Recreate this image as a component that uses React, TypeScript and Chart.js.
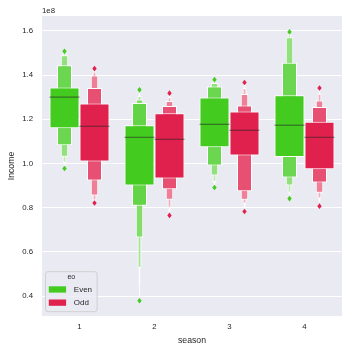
import React, { useEffect, useRef } from "react";
import { Chart, registerables } from "chart.js";

Chart.register(...registerables);

const SEASONS = ["1", "2", "3", "4"];
const HUES = ["Even", "Odd"];
const HUE_COLORS = ["#43CB1F", "#E0204D"];

const EVEN_MEDIAN = [1.3e8, 1.118e8, 1.177e8, 1.173e8];
const ODD_MEDIAN = [1.168e8, 1.109e8, 1.15e8, 1.118e8];

// letter-value box ends per season, innermost (quartiles) to outermost
const EVEN_LOWER = [
  [1.159e8, 1.082e8, 1.03e8, 1.003e8, 0.99e8],
  [0.9e8, 0.809e8, 0.665e8, 0.527e8, 0.45e8, 0.397e8],
  [1.073e8, 0.991e8, 0.945e8, 0.916e8, 0.9e8],
  [1.029e8, 0.936e8, 0.9e8, 0.868e8, 0.856e8],
];
const EVEN_UPPER = [
  [1.344e8, 1.444e8, 1.489e8, 1.499e8, 1.504e8],
  [1.173e8, 1.273e8, 1.289e8, 1.305e8, 1.318e8, 1.326e8],
  [1.298e8, 1.348e8, 1.364e8, 1.372e8, 1.376e8],
  [1.309e8, 1.455e8, 1.571e8, 1.583e8, 1.59e8],
];
const ODD_LOWER = [
  [1.009e8, 0.923e8, 0.855e8, 0.833e8, 0.826e8],
  [0.932e8, 0.883e8, 0.836e8, 0.8e8, 0.78e8],
  [1.036e8, 0.874e8, 0.836e8, 0.818e8, 0.798e8],
  [0.974e8, 0.914e8, 0.868e8, 0.841e8, 0.825e8],
];
const ODD_UPPER = [
  [1.271e8, 1.341e8, 1.398e8, 1.416e8, 1.424e8],
  [1.227e8, 1.26e8, 1.282e8, 1.3e8, 1.31e8],
  [1.235e8, 1.262e8, 1.314e8, 1.341e8, 1.356e8],
  [1.189e8, 1.255e8, 1.285e8, 1.315e8, 1.326e8],
];
const EVEN_OUTLIERS = [
  [1.507e8, 0.977e8],
  [1.333e8, 0.379e8],
  [1.379e8, 0.891e8],
  [1.595e8, 0.841e8],
];
const ODD_OUTLIERS = [
  [1.429e8, 0.821e8],
  [1.318e8, 0.765e8],
  [1.366e8, 0.783e8],
  [1.341e8, 0.807e8],
];

const Y_TICKS = [0.4e8, 0.6e8, 0.8e8, 1.0e8, 1.2e8, 1.4e8, 1.6e8];
const Y_MIN = 0.31e8;
const Y_MAX = 1.667e8;

const FONT = "'Liberation Sans', Arial, sans-serif";
const TEXT = "#262626";
const CATEGORY_PCT = 0.8;

const LOWERS = [EVEN_LOWER, ODD_LOWER];
const UPPERS = [EVEN_UPPER, ODD_UPPER];
const MEDIANS = [EVEN_MEDIAN, ODD_MEDIAN];
const OUTLIERS = [EVEN_OUTLIERS, ODD_OUTLIERS];

function lighten(hex: string, f: number): string {
  const n = parseInt(hex.slice(1), 16);
  const r = (n >> 16) & 255, g = (n >> 8) & 255, b = n & 255;
  const m = (c: number) => Math.round(c + (255 - c) * f);
  return `rgb(${m(r)},${m(g)},${m(b)})`;
}

const bgPlugin = {
  id: "axesBg",
  beforeDraw(chart: any) {
    const { ctx, chartArea: a } = chart;
    ctx.save();
    ctx.fillStyle = "#EAEAF2";
    ctx.fillRect(a.left, a.top, a.right - a.left, a.bottom - a.top);
    ctx.restore();
  },
};

// medians and outliers, placed on the level-1 box of each hue via the chart's own elements/scales
const marksPlugin = {
  id: "lvMarks",
  afterDatasetsDraw(chart: any) {
    const { ctx } = chart;
    const yScale = chart.scales.y;
    ctx.save();
    chart.data.datasets.forEach((ds: any, di: number) => {
      if (ds.level !== 0) return;
      const h = ds.hueIndex;
      const meta = chart.getDatasetMeta(di);
      meta.data.forEach((el: any, c: number) => {
        if (!el) return;
        const x = el.x;
        const w = el.width;
        // median
        const my = yScale.getPixelForValue(MEDIANS[h][c]);
        ctx.strokeStyle = "rgba(38,38,38,0.5)";
        ctx.lineWidth = 1.3;
        ctx.beginPath();
        ctx.moveTo(x - w / 2, my);
        ctx.lineTo(x + w / 2, my);
        ctx.stroke();
        // outliers
        ctx.fillStyle = HUE_COLORS[h];
        OUTLIERS[h][c].forEach((v) => {
          const py = yScale.getPixelForValue(v);
          ctx.beginPath();
          ctx.moveTo(x, py - 2.8);
          ctx.lineTo(x + 2.2, py);
          ctx.lineTo(x, py + 2.8);
          ctx.lineTo(x - 2.2, py);
          ctx.closePath();
          ctx.fill();
        });
      });
    });
    ctx.restore();
  },
};

const extrasPlugin = {
  id: "extras",
  afterDraw(chart: any) {
    const { ctx, chartArea: a } = chart;
    ctx.save();
    ctx.fillStyle = TEXT;
    ctx.font = `7.8px ${FONT}`;
    ctx.textAlign = "left";
    ctx.textBaseline = "middle";
    ctx.fillText("1e8", a.left, a.top - 5);
    // legend
    const x0 = a.left + 3.5, y0 = a.bottom - 44.3, w = 51.6, h = 40;
    const r = 2.5;
    ctx.beginPath();
    ctx.moveTo(x0 + r, y0);
    ctx.arcTo(x0 + w, y0, x0 + w, y0 + h, r);
    ctx.arcTo(x0 + w, y0 + h, x0, y0 + h, r);
    ctx.arcTo(x0, y0 + h, x0, y0, r);
    ctx.arcTo(x0, y0, x0 + w, y0, r);
    ctx.closePath();
    ctx.fillStyle = "rgba(234,234,242,0.8)";
    ctx.fill();
    ctx.strokeStyle = "#D0D0D0";
    ctx.lineWidth = 1;
    ctx.stroke();
    ctx.fillStyle = TEXT;
    ctx.font = `7px ${FONT}`;
    ctx.textAlign = "center";
    ctx.fillText("eo", x0 + w / 2, y0 + 5.5);
    ctx.font = `8px ${FONT}`;
    ctx.textAlign = "left";
    HUES.forEach((hue, i) => {
      ctx.fillStyle = HUE_COLORS[i];
      ctx.fillRect(x0 + 3.3, y0 + 14.6 + i * 13.2, 17.3, 6.3);
      ctx.fillStyle = TEXT;
      ctx.fillText(hue, x0 + 28.3, y0 + 17.8 + i * 13.4);
    });
    ctx.restore();
  },
};

export default function App() {
  const ref = useRef<HTMLCanvasElement | null>(null);

  useEffect(() => {
    document.body.style.margin = "0";
    const datasets: any[] = [];

    HUES.forEach((hue, h) => {
      const lower = LOWERS[h];
      const upper = UPPERS[h];
      const maxK = Math.max(...lower.map((l) => l.length));
      for (let j = 0; j < maxK; j++) {
        datasets.push({
          type: "bar",
          label: `${hue} level ${j + 1}`,
          hueIndex: h,
          level: j,
          stack: hue,
          data: SEASONS.map((_, c) =>
            j < lower[c].length ? [lower[c][j], upper[c][j]] : null
          ),
          backgroundColor: SEASONS.map((_, c) => {
            const k = lower[c].length;
            return lighten(HUE_COLORS[h], k > 1 ? (0.85 * j) / (k - 1) : 0);
          }),
          borderColor: "#FFFFFF",
          borderWidth: 1,
          borderSkipped: false,
          barPercentage: Math.pow(0.5, j),
          categoryPercentage: CATEGORY_PCT,
        });
      }
    });

    const chart = new Chart(ref.current as HTMLCanvasElement, {
      type: "bar",
      data: { labels: SEASONS, datasets },
      options: {
        animation: false,
        responsive: false,
        maintainAspectRatio: false,
        events: [],
        layout: { padding: { top: 16, right: 11, left: 0, bottom: 0 } },
        plugins: { legend: { display: false }, tooltip: { enabled: false } },
        scales: {
          x: {
            type: "category",
            offset: true,
            grid: { display: false, drawTicks: false },
            border: { display: false },
            ticks: { color: TEXT, font: { family: FONT, size: 7.8 }, padding: 6 },
            title: {
              display: true,
              text: "season",
              color: TEXT,
              font: { family: FONT, size: 8.7 },
              padding: { top: 0, bottom: 7.5 },
            },
            afterFit(s: any) {
              s.height = 37;
            },
          },
          y: {
            type: "linear",
            min: Y_MIN,
            max: Y_MAX,
            stacked: false,
            grid: { color: "#FFFFFF", lineWidth: 1, drawTicks: false },
            border: { display: false },
            ticks: {
              color: TEXT,
              font: { family: FONT, size: 7.8 },
              padding: 9,
              callback: (v: any) => (Number(v) / 1e8).toFixed(1),
            },
            afterBuildTicks(s: any) {
              s.ticks = Y_TICKS.map((v) => ({ value: v }));
            },
            title: {
              display: true,
              text: "Income",
              color: TEXT,
              font: { family: FONT, size: 8.7 },
              padding: { top: 6, bottom: 0 },
            },
            afterFit(s: any) {
              s.width = 42;
            },
          },
        },
      } as any,
      plugins: [bgPlugin, marksPlugin, extrasPlugin],
    });
    return () => chart.destroy();
  }, []);

  return (
    <div style={{ width: 353, height: 353 }}>
      <canvas ref={ref} width={353} height={353} style={{ display: "block" }} />
    </div>
  );
}
